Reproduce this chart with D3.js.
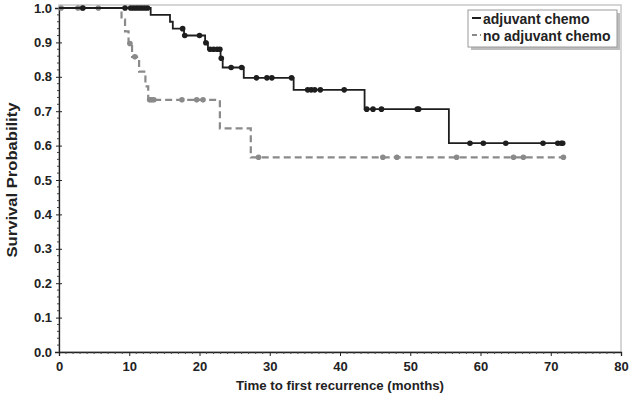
<!DOCTYPE html>
<html>
<head>
<meta charset="utf-8">
<script src="https://cdn.jsdelivr.net/npm/d3@7"></script>
<style>
  html, body { margin: 0; padding: 0; background: #fff; }
  svg { display: block; font-family: "Liberation Sans", Arial, sans-serif; }
</style>
</head>
<body>
<svg id="chart" width="631" height="400"></svg>
<script>
// ---- data ----
const xTicks = [0, 10, 20, 30, 40, 50, 60, 70, 80];
const yTicks = [0, 0.1, 0.2, 0.3, 0.4, 0.5, 0.6, 0.7, 0.8, 0.9, 1.0];

// adjuvant chemo: event times and survival after each event
const adjTimes = [13.05, 15.8, 16.2, 17.8, 20.8, 21.2, 23.0, 23.3, 26.3, 33.4, 43.5, 55.5];
const adjSurv  = [0.980, 0.960, 0.940, 0.920, 0.899, 0.880, 0.854, 0.827, 0.797, 0.762, 0.706, 0.607];
const adjEnd = 71.7;
const adjCensor = [3.4, 9.4, 10.2, 10.6, 11.0, 11.4, 11.8, 12.2, 12.6, 17.6, 17.9, 20.0, 20.9,
  21.5, 22.0, 22.5, 22.9, 23.1, 24.5, 26.0, 28.1, 29.6, 30.3, 33.1, 35.4, 35.9, 36.4, 37.2,
  40.6, 43.8, 44.7, 45.9, 51.0, 51.2, 58.5, 60.4, 63.6, 68.9, 71.0, 71.5, 71.7];

// no adjuvant chemo
const noTimes = [8.9, 9.4, 9.9, 10.4, 11.4, 12.3, 12.7, 22.9, 27.3];
const noSurv  = [0.966, 0.932, 0.897, 0.858, 0.815, 0.772, 0.733, 0.650, 0.566];
const noEnd = 71.8;
const noCensor = [0.3, 2.7, 3.3, 5.6, 10.1, 10.8, 12.9, 13.2, 13.5, 17.5, 19.6, 20.5, 28.4,
  46.1, 48.1, 56.6, 64.7, 66.1, 71.8];

const seriesNames = ["adjuvant chemo", "no adjuvant chemo"];

// ---- layout ----
const svg = d3.select("#chart");
const x = d3.scaleLinear().domain([0, 80]).range([59, 621]);
const y = d3.scaleLinear().domain([0, 1]).range([352, 8]);

// frame (light gray top/right)
svg.append("rect")
  .attr("x", x(0)).attr("y", y(1) - 3)
  .attr("width", x(80) - x(0)).attr("height", y(0) - y(1) + 3)
  .attr("fill", "none").attr("stroke", "#c8c8c8").attr("stroke-width", 1.5);

// axes
const xAxis = svg.append("g").attr("transform", `translate(0,${y(0)})`)
  .call(d3.axisBottom(x).tickValues(xTicks).tickSize(4).tickFormat(d3.format("d")));
const yAxis = svg.append("g").attr("transform", `translate(${x(0)},0)`)
  .call(d3.axisLeft(y).tickValues(yTicks).tickSize(4).tickFormat(d3.format(".1f")));

[xAxis, yAxis].forEach(g => {
  g.select(".domain").attr("stroke", "#222").attr("stroke-width", 1.3);
  g.selectAll(".tick line").attr("stroke", "#222");
  g.selectAll(".tick text").attr("font-family", "Liberation Sans, Arial, sans-serif")
    .attr("font-size", 13).attr("font-weight", "bold").attr("fill", "#222");
});
xAxis.selectAll(".tick text").attr("dy", "0.95em");
yAxis.selectAll(".tick text").attr("x", -7);
yAxis.selectAll(".tick line").attr("x2", 3).attr("x1", -3);

// minor ticks
svg.append("g").selectAll("line").data(d3.range(0, 81, 1).filter(d => d % 10 !== 0))
  .join("line")
  .attr("x1", d => x(d)).attr("x2", d => x(d))
  .attr("y1", y(0)).attr("y2", y(0) + 2)
  .attr("stroke", "#444").attr("stroke-width", 1);
svg.append("g").selectAll("line").data(d3.range(0, 1.001, 0.02).filter(d => Math.round(d * 100) % 10 !== 0))
  .join("line")
  .attr("x1", x(0) - 2).attr("x2", x(0))
  .attr("y1", d => y(d)).attr("y2", d => y(d))
  .attr("stroke", "#444").attr("stroke-width", 1);

// axis titles
svg.append("text").attr("x", 340).attr("y", 390).attr("text-anchor", "middle")
  .attr("font-size", 13.5).attr("font-weight", "bold").attr("fill", "#222")
  .attr("textLength", 208).attr("lengthAdjust", "spacingAndGlyphs")
  .text("Time to first recurrence (months)");
svg.append("text").attr("transform", `translate(17,${y(0.5)}) rotate(-90)`)
  .attr("text-anchor", "middle")
  .attr("font-size", 14).attr("font-weight", "bold").attr("fill", "#222")
  .attr("textLength", 155).attr("lengthAdjust", "spacingAndGlyphs")
  .text("Survival Probability");

// ---- curves ----
function stepPoints(times, surv, end) {
  const pts = [[0, 1]];
  times.forEach((t, i) => pts.push([t, surv[i]]));
  pts.push([end, surv[surv.length - 1]]);
  return pts;
}
function survAt(times, surv, t) {
  let s = 1;
  times.forEach((tt, i) => { if (tt <= t) s = surv[i]; });
  return s;
}
const line = d3.line().x(d => x(d[0])).y(d => y(d[1])).curve(d3.curveStepAfter);

const grayCol = "#8a8a8a";
const blackCol = "#1e1e1e";

// no adjuvant (gray dashed)
svg.append("path").datum(stepPoints(noTimes, noSurv, noEnd))
  .attr("d", line).attr("fill", "none")
  .attr("stroke", grayCol).attr("stroke-width", 2.2).attr("stroke-dasharray", "7,4");
svg.append("g").selectAll("circle").data(noCensor).join("circle")
  .attr("cx", d => x(d)).attr("cy", d => y(survAt(noTimes, noSurv, d)))
  .attr("r", 2.8).attr("fill", grayCol);

// adjuvant (black solid)
svg.append("path").datum(stepPoints(adjTimes, adjSurv, adjEnd))
  .attr("d", line).attr("fill", "none")
  .attr("stroke", blackCol).attr("stroke-width", 1.8);
svg.append("g").selectAll("circle").data(adjCensor).join("circle")
  .attr("cx", d => x(d)).attr("cy", d => y(survAt(adjTimes, adjSurv, d)))
  .attr("r", 2.8).attr("fill", blackCol);

// ---- legend ----
const lg = svg.append("g").attr("transform", "translate(468,10)");
lg.append("rect").attr("x", 3).attr("y", 3).attr("width", 149).attr("height", 37)
  .attr("fill", "#bdbdbd");
lg.append("rect").attr("x", 0).attr("y", 0).attr("width", 149).attr("height", 37)
  .attr("fill", "#fff").attr("stroke", "#9a9a9a").attr("stroke-width", 1);
seriesNames.forEach((name, i) => {
  const yy = 13 + i * 17;
  lg.append("line").attr("x1", 4).attr("x2", 13).attr("y1", yy - 5).attr("y2", yy - 5)
    .attr("stroke", i === 0 ? blackCol : grayCol).attr("stroke-width", 2)
    .attr("stroke-dasharray", i === 0 ? null : "5,3");
  lg.append("text").attr("x", 15).attr("y", yy + 1)
    .attr("font-size", 14).attr("font-weight", "bold").attr("fill", "#222")
    .text(name);
});
</script>
</body>
</html>
